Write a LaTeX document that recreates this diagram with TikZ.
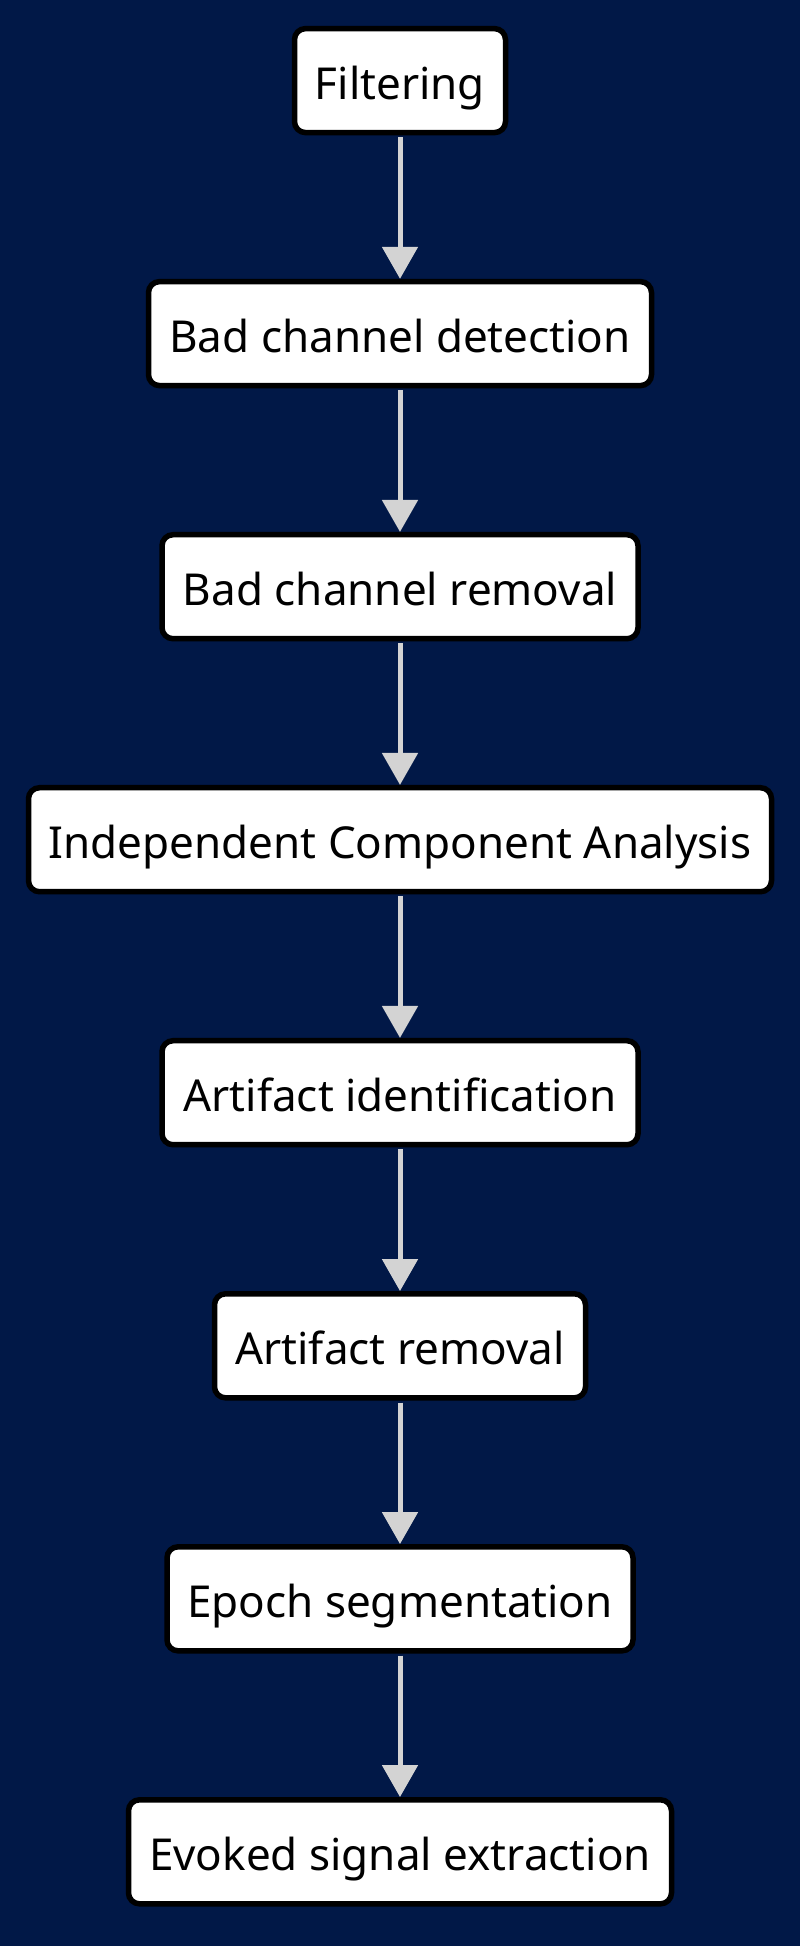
\documentclass[tikz,border=0pt]{standalone}
\usepackage{fontspec}
\setmainfont{Noto Sans}
\usetikzlibrary{arrows.meta}
\definecolor{bgblue}{HTML}{011847}
\definecolor{arrowgray}{HTML}{D3D3D3}
\begin{document}
\begin{tikzpicture}[x=1pt,y=-1pt,
  stepbox/.style={draw=black, line width=5.5pt, fill=white, rounded corners=11pt,
    minimum height=104pt, inner sep=0pt, text height=40pt, text depth=3pt,
    font=\fontsize{44}{53}\selectfont, text=black},
  flow/.style={draw=arrowgray, line width=5pt, -{Triangle[length=32pt,width=35pt]}, shorten <=2pt}
]
\fill[bgblue] (0,0) rectangle (800,1946);
\useasboundingbox (0,0) rectangle (800,1946);
\node[stepbox, minimum width=211pt] (n1) at (400,80.6) {Filtering};
\node[stepbox, minimum width=503pt] (n2) at (400,333.6) {Bad channel detection};
\node[stepbox, minimum width=476pt] (n3) at (400,586.7) {Bad channel removal};
\node[stepbox, minimum width=743pt] (n4) at (400,839.7) {Independent Component Analysis};
\node[stepbox, minimum width=476pt] (n5) at (400,1092.7) {Artifact identification};
\node[stepbox, minimum width=371pt] (n6) at (400,1345.8) {Artifact removal};
\node[stepbox, minimum width=466pt] (n7) at (400,1598.8) {Epoch segmentation};
\node[stepbox, minimum width=543pt] (n8) at (400,1851.8) {Evoked signal extraction};
\draw[flow] (n1.south) -- (n2.north);
\draw[flow] (n2.south) -- (n3.north);
\draw[flow] (n3.south) -- (n4.north);
\draw[flow] (n4.south) -- (n5.north);
\draw[flow] (n5.south) -- (n6.north);
\draw[flow] (n6.south) -- (n7.north);
\draw[flow] (n7.south) -- (n8.north);
\end{tikzpicture}
\end{document}
